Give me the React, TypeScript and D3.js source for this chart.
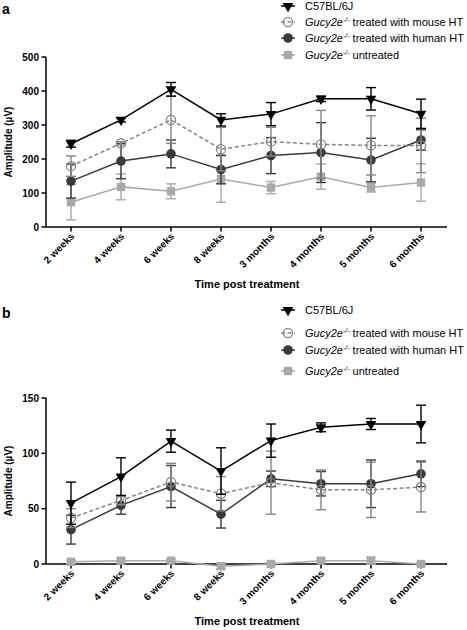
import React from "react";
import * as d3 from "d3";

const categories = ["2 weeks", "4 weeks", "6 weeks", "8 weeks", "3 months", "4 months", "5 months", "6 months"];

// Panel a
const aC57 = [245, 315, 405, 315, 332, 377, 377, 333];
const aC57Err = [10, 6, 20, 18, 34, 8, 33, 43];
const aMouse = [179, 246, 315, 229, 251, 243, 240, 240];
const aMouseErr = [30, 5, 69, 64, 42, 100, 87, 80];
const aHuman = [135, 194, 215, 169, 210, 219, 197, 256];
const aHumanErr = [50, 52, 41, 42, 53, 88, 64, 30];
const aUntreated = [73, 118, 105, 141, 116, 148, 116, 131];
const aUntreatedErr = [52, 38, 22, 68, 18, 37, 13, 55];
const aTicks = [0, 100, 200, 300, 400, 500];

// Panel b
const bC57 = [55, 79, 111, 84, 111.5, 123.5, 126.5, 126.5];
const bC57Err = [19, 17, 10, 21, 15, 4, 5, 17];
const bMouse = [41.5, 57.5, 74, 63.5, 73.5, 67, 67, 69.5];
const bMouseErr = [8.5, 4, 17, 15.5, 28.5, 18, 25, 22.5];
const bHuman = [31, 53, 70, 45, 77, 72.5, 72.5, 81.5];
const bHumanErr = [13, 8, 19, 12.5, 7, 11, 21.5, 11.5];
const bUntreated = [2, 3, 3, -2, 0, 3, 3, 0];
const bUntreatedErr = [1.5, 2, 1.5, 2.5, 1, 2, 3, 1];
const bTicks = [0, 50, 100, 150];

const FONT = "'Liberation Sans', Arial, Helvetica, sans-serif";

type Style = { key: string; color: string; dash?: string; marker: "tri" | "open" | "filled" | "square" };
const styles: Style[] = [
  { key: "untreated", color: "#a9a9a9", marker: "square" },
  { key: "human", color: "#3a3a3a", marker: "filled" },
  { key: "mouse", color: "#858585", dash: "4,2.5", marker: "open" },
  { key: "c57", color: "#000000", marker: "tri" },
];

function Marker({ s, x, y }: { s: Style; x: number; y: number }) {
  if (s.marker === "tri") {
    const p = d3.symbol().type(d3.symbolTriangle).size(50)();
    return <path d={p || ""} transform={`translate(${x},${y}) rotate(180)`} fill={s.color} />;
  }
  if (s.marker === "open") return <circle cx={x} cy={y} r={4.6} fill="none" stroke={s.color} strokeWidth={1.3} />;
  if (s.marker === "filled") return <circle cx={x} cy={y} r={4.8} fill={s.color} />;
  return <rect x={x - 4.2} y={y - 4.2} width={8.4} height={8.4} fill={s.color} />;
}

function Gucy({ rest }: { rest: string }) {
  return (
    <>
      <tspan fontStyle="italic">Gucy2e</tspan>
      <tspan fontStyle="italic" fontSize={7} dy={-4}>-/-</tspan>
      <tspan dy={4}>{" " + rest}</tspan>
    </>
  );
}

function Panel({
  data, errs, ticks, y0, y1, letter, letterY, legendYs,
}: {
  data: number[][]; errs: number[][]; ticks: number[]; y0: number; y1: number; letter: string; letterY: number; legendYs: number[];
}) {
  const x = d3.scalePoint<string>().domain(categories).range([71, 421]);
  const yMax = ticks[ticks.length - 1];
  const y = d3.scaleLinear().domain([0, yMax]).range([y0, y1]);
  const line = d3.line<number>().x((_, i) => x(categories[i]) as number).y((v) => y(v));
  const legendOrder = [3, 2, 1, 0];
  return (
    <g>
      <text x={2} y={letterY} fontFamily={FONT} fontWeight="bold" fontSize={14}>{letter}</text>
      <line x1={46} x2={46} y1={y(0)} y2={y(yMax)} stroke="#000" strokeWidth={1.5} />
      <line x1={46} x2={447} y1={y(0)} y2={y(0)} stroke="#000" strokeWidth={1.5} />
      {ticks.map((t) => (
        <g key={t}>
          <line x1={41.5} x2={46} y1={y(t)} y2={y(t)} stroke="#000" strokeWidth={1.5} />
          <text x={39} y={y(t) + 3.6} textAnchor="end" fontFamily={FONT} fontWeight="bold" fontSize={10}>{t}</text>
        </g>
      ))}
      {categories.map((c) => (
        <g key={c}>
          <line x1={x(c)} x2={x(c)} y1={y(0)} y2={y(0) + 4.5} stroke="#000" strokeWidth={1.5} />
          <text transform={`translate(${(x(c) as number) + 4},${y(0) + 10}) rotate(-45)`} textAnchor="end" fontFamily={FONT} fontWeight="bold" fontSize={10}>{c}</text>
        </g>
      ))}
      <text x={247} y={y(0) + 61} textAnchor="middle" fontFamily={FONT} fontWeight="bold" fontSize={11}>Time post treatment</text>
      <text transform={`translate(12,${(y(0) + y(yMax)) / 2}) rotate(-90)`} textAnchor="middle" fontFamily={FONT} fontWeight="bold" fontSize={10}>Amplitude (µV)</text>
      {styles.map((s, si) => (
        <g key={s.key}>
          {data[si].map((v, i) => {
            const cx = x(categories[i]) as number;
            const e = errs[si][i];
            return (
              <g key={i} stroke={s.color} strokeWidth={1.4}>
                <line x1={cx} x2={cx} y1={y(v - e)} y2={y(v + e)} />
                <line x1={cx - 5} x2={cx + 5} y1={y(v - e)} y2={y(v - e)} />
                <line x1={cx - 5} x2={cx + 5} y1={y(v + e)} y2={y(v + e)} />
              </g>
            );
          })}
          <path d={line(data[si]) || ""} fill="none" stroke={s.color} strokeWidth={1.5} strokeDasharray={s.dash} />
          {data[si].map((v, i) => (
            <Marker key={i} s={s} x={x(categories[i]) as number} y={y(v)} />
          ))}
        </g>
      ))}
      {legendOrder.map((si, r) => {
        const s = styles[si];
        const ly = legendYs[r];
        return (
          <g key={s.key}>
            <line x1={281} x2={295} y1={ly} y2={ly} stroke={s.color} strokeWidth={1.5} strokeDasharray={s.dash} />
            <Marker s={s} x={288} y={ly} />
            <text x={305} y={ly + 4} fontFamily={FONT} fontSize={11}>
              {r === 0 ? "C57BL/6J" : r === 1 ? <Gucy rest="treated with mouse HT" /> : r === 2 ? <Gucy rest="treated with human HT" /> : <Gucy rest="untreated" />}
            </text>
          </g>
        );
      })}
    </g>
  );
}

export default function App() {
  return (
    <svg width={467} height={630} style={{ position: "absolute", left: 0, top: 0, background: "#fff" }}>
      <rect width={467} height={630} fill="#fff" />
      <Panel
        data={[aUntreated, aHuman, aMouse, aC57]}
        errs={[aUntreatedErr, aHumanErr, aMouseErr, aC57Err]}
        ticks={aTicks}
        y0={227}
        y1={57}
        letter="a"
        letterY={14}
        legendYs={[6, 22, 38, 55]}
      />
      <Panel
        data={[bUntreated, bHuman, bMouse, bC57]}
        errs={[bUntreatedErr, bHumanErr, bMouseErr, bC57Err]}
        ticks={bTicks}
        y0={564}
        y1={398}
        letter="b"
        letterY={318}
        legendYs={[310, 333, 350, 371]}
      />
    </svg>
  );
}
